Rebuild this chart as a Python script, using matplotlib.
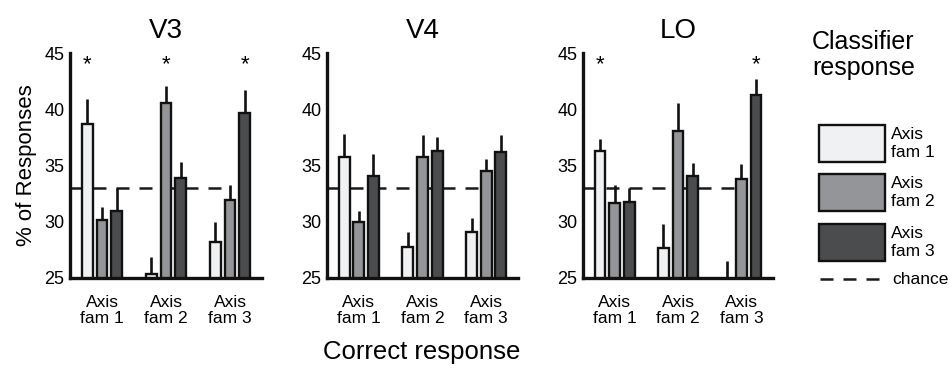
import matplotlib
matplotlib.use("Agg")
import matplotlib.pyplot as plt
from matplotlib.patches import Rectangle
from matplotlib.lines import Line2D
import numpy as np

plt.rcParams['font.family'] = ['Liberation Sans', 'DejaVu Sans']

# data: rows = correct response (Axis fam 1..3), cols = classifier response (fam 1..3)
regions = ['V3', 'V4', 'LO']
group_labels = ['Axis\nfam 1', 'Axis\nfam 2', 'Axis\nfam 3']
legend_labels = ['Axis\nfam 1', 'Axis\nfam 2', 'Axis\nfam 3']

v3_mean = [[38.7, 30.2, 31.0], [25.4, 40.6, 33.9], [28.2, 31.9, 39.7]]
v3_top = [[40.9, 31.3, 33.0], [26.9, 42.1, 35.3], [30.0, 33.3, 41.7]]
v4_mean = [[35.8, 30.0, 34.1], [27.8, 35.8, 36.3], [29.1, 34.5, 36.2]]
v4_top = [[37.8, 31.0, 36.0], [29.1, 37.7, 37.5], [30.3, 35.6, 37.7]]
lo_mean = [[36.3, 31.7, 31.8], [27.7, 38.1, 34.1], [24.8, 33.8, 41.3]]
lo_top = [[37.4, 33.3, 33.0], [29.8, 40.6, 35.2], [26.5, 35.1, 42.7]]

# significance stars: (group index, bar index)
v3_stars = [(0, 0), (1, 1), (2, 2)]
v4_stars = []
lo_stars = [(0, 0), (2, 2)]

chance = 33.0
star_y = 44.2

means = [v3_mean, v4_mean, lo_mean]
tops = [v3_top, v4_top, lo_top]
stars = [v3_stars, v4_stars, lo_stars]

colors = ['#f0f1f2', '#939598', '#4a4c4e']
dash = (0, (5.2, 4.0))

W, H = 952, 377
fig = plt.figure(figsize=(W / 100, H / 100), dpi=100)

lefts = [70, 327, 583]
widths = [192, 191, 190]
offsets = [-0.23, 0.0, 0.23]
bw = 0.17

for k in range(3):
    ax = fig.add_axes([lefts[k] / W, (H - 278) / H, widths[k] / W, 225 / H])
    ax.plot([0.5, 3.0], [chance, chance], ls=dash, color='#1a1a1a',
            lw=1.8, zorder=1)
    m = np.array(means[k])
    t = np.array(tops[k])
    for g in range(3):
        for b in range(3):
            x = g + 1 + offsets[b]
            ax.bar(x, m[g, b], width=bw, color=colors[b], edgecolor='#111111',
                   linewidth=1.7, zorder=2)
            ax.plot([x, x], [m[g, b], t[g, b]], color='#111111', lw=1.9,
                    zorder=3, solid_capstyle='butt')
    for g, b in stars[k]:
        ax.text(g + 1 + offsets[b], star_y - 0.25, '*', ha='center', va='center',
                fontsize=16)
    ax.set_xlim(0.5, 3.5)
    ax.set_ylim(25, 45)
    ax.set_yticks([25, 30, 35, 40, 45])
    ax.set_xticks([1, 2, 3])
    ax.set_xticklabels(group_labels, fontsize=12.5, linespacing=1.15)
    ax.tick_params(axis='y', length=0, labelsize=13, pad=4)
    ax.tick_params(axis='x', length=0, pad=12)
    for s in ['top', 'right']:
        ax.spines[s].set_visible(False)
    for s in ['left', 'bottom']:
        ax.spines[s].set_linewidth(2.4)
        ax.spines[s].set_color('#111111')
    ax.set_title(regions[k], fontsize=20, pad=11)
    if k == 0:
        ax.set_ylabel('% of Responses', fontsize=16, labelpad=5)

fig.text(422 / W, 1 - 352 / H, 'Correct response', ha='center', va='center',
         fontsize=18.5)

# legend
lax = fig.add_axes([0, 0, 1, 1])
lax.set_xlim(0, W)
lax.set_ylim(H, 0)
lax.axis('off')
lax.text(812, 55, 'Classifier\nresponse', ha='left', va='center', fontsize=18,
         linespacing=1.1)
box_tops = [125, 174, 224]
for i in range(3):
    lax.add_patch(Rectangle((819, box_tops[i]), 66, 37, facecolor=colors[i],
                            edgecolor='#111111', lw=1.7))
    lax.text(891, box_tops[i] + 18.5, legend_labels[i], ha='left', va='center',
             fontsize=12.5, linespacing=1.2)
lax.add_line(Line2D([820, 881], [279, 279], ls=dash, color='#1a1a1a', lw=1.8))
lax.text(892, 279, 'chance', ha='left', va='center', fontsize=12.5)

fig.savefig('out.png', dpi=100)
